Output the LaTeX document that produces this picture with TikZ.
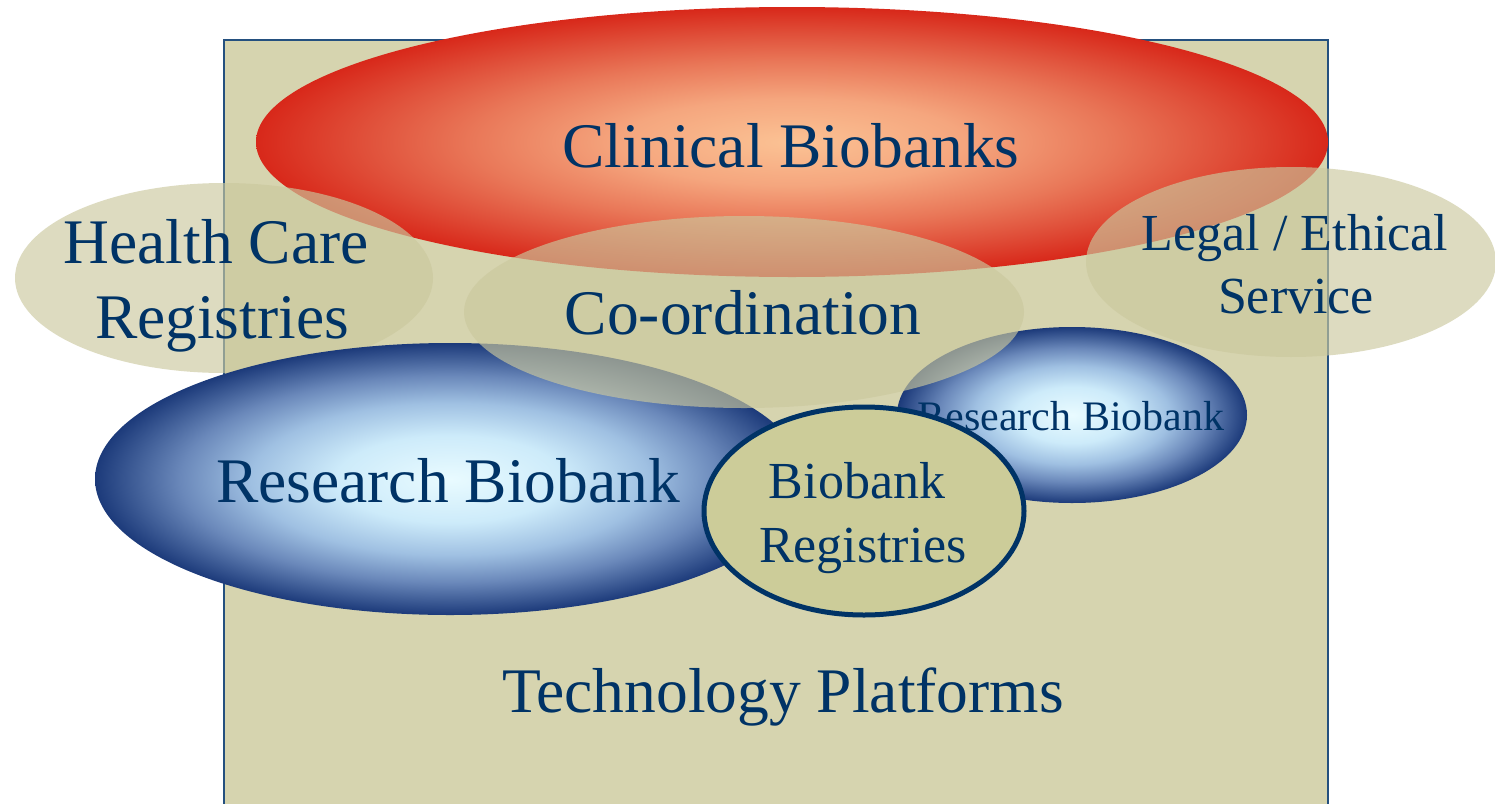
\documentclass[tikz,border=0pt]{standalone}
\usepackage{fontspec}
\setmainfont{Liberation Serif}
\definecolor{navy}{HTML}{003366}
\definecolor{rectline}{HTML}{24507F}
\definecolor{khakibg}{HTML}{D6D4AF}
\definecolor{khakiov}{HTML}{CBC89E}
\definecolor{khakisolid}{HTML}{CCCC99}
\definecolor{rA}{HTML}{FBC294}
\definecolor{rB}{HTML}{F5A67E}
\definecolor{rC}{HTML}{E97758}
\definecolor{rD}{HTML}{E0503A}
\definecolor{rE}{HTML}{D8281A}
\definecolor{bA}{HTML}{E9FBFF}
\definecolor{bB}{HTML}{CDEBFA}
\definecolor{bC}{HTML}{9FC0E2}
\definecolor{bD}{HTML}{6A88BA}
\definecolor{bE}{HTML}{1C3A7A}
\pgfdeclareradialshading{redball}{\pgfpoint{0bp}{0bp}}{color(0bp)=(rA); color(8bp)=(rB); color(15bp)=(rC); color(20bp)=(rD); color(25bp)=(rE); color(50bp)=(rE)}
\pgfdeclareradialshading{blueball}{\pgfpoint{0bp}{0bp}}{color(0bp)=(bA); color(8bp)=(bB); color(14bp)=(bC); color(19bp)=(bD); color(25bp)=(bE); color(50bp)=(bE)}
\begin{document}
\begin{tikzpicture}[x=1pt,y=-1pt,
  lbl/.style={text=navy, inner sep=0pt, anchor=base},
  bigtxt/.style={lbl, font=\fontsize{63.5}{75}\selectfont},
  midtxt/.style={lbl, font=\fontsize{52}{63}\selectfont},
  smalltxt/.style={lbl, font=\fontsize{42}{50}\selectfont},
  overlay/.style={fill=khakiov, fill opacity=0.65}]
\useasboundingbox (0,0) rectangle (1495,803);
\clip (0,0) rectangle (1495,803);
% background platform
\path[fill=khakibg, draw=rectline, line width=2pt] (224,40) rectangle (1328,820);
% clinical biobanks
\shade[shading=redball] (792,142) ellipse [x radius=536pt, y radius=135pt];
% health care and legal overlays
\path[overlay] (224,278) ellipse [x radius=209pt, y radius=95pt];
\path[overlay] (1291,262) ellipse [x radius=205pt, y radius=95pt];
% research biobanks
\shade[shading=blueball] (450,479) ellipse [x radius=355pt, y radius=136pt];
\shade[shading=blueball] (1072,415) ellipse [x radius=175pt, y radius=88pt];
% co-ordination overlay
\path[overlay] (744,312) ellipse [x radius=280pt, y radius=96pt];
% texts
\node[bigtxt] (clin) at (791,167) {Clinical Biobanks};
\node[bigtxt] (hc1) at (216,263) {Health Care};
\node[bigtxt] (hc2) at (222,338) {Registries};
\node[midtxt] (le1) at (1295,250) {Legal / Ethical};
\node[midtxt] (le2) at (1296,313) {Service};
\node[bigtxt] (rb) at (448,502) {Research Biobank};
\node[smalltxt] (rbs) at (1071,430) {Research Biobank};
% biobank registries
\path[fill=khakisolid, draw=navy, line width=5pt] (864,511) ellipse [x radius=160pt, y radius=104pt];
\node[midtxt] (br1) at (857,498) {Biobank};
\node[midtxt] (br2) at (863,562) {Registries};
\node[bigtxt] (coord) at (743,334) {Co-ordination};
\node[bigtxt] (tech) at (783,712) {Technology Platforms};
\end{tikzpicture}
\end{document}
